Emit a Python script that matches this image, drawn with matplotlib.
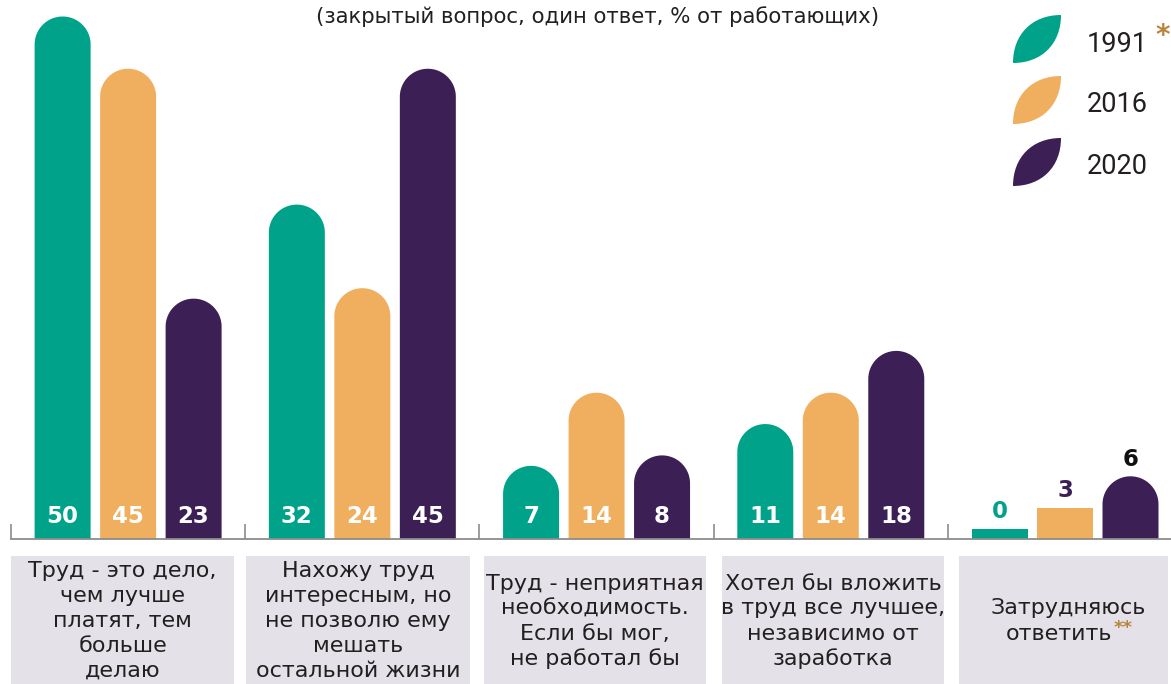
import numpy as np
import matplotlib
matplotlib.use("Agg")
import matplotlib.pyplot as plt
from matplotlib.patches import Polygon, Rectangle, PathPatch
from matplotlib.path import Path

# data
categories = [
    "Труд - это дело,\nчем лучше\nплатят, тем\nбольше\nделаю",
    "Нахожу труд\nинтересным, но\nне позволю ему\nмешать\nостальной жизни",
    "Труд - неприятная\nнеобходимость.\nЕсли бы мог,\nне работал бы",
    "Хотел бы вложить\nв труд все лучшее,\nнезависимо от\nзаработка",
    "Затрудняюсь\nответить",
]
years = ["1991", "2016", "2020"]
v1991 = [50, 32, 7, 11, 0]
v2016 = [45, 24, 14, 14, 3]
v2020 = [23, 45, 8, 18, 6]
series = [v1991, v2016, v2020]

colors = ["#00A389", "#F0AF5E", "#3C1F54"]
outside_colors = ["#00A389", "#3C1F54", "#111111"]
star_color = "#B8843E"
text_color = "#231F20"
box_color = "#E4E2E8"

W, H = 1171, 684
fig = plt.figure(figsize=(W / 100, H / 100), dpi=100)
renderer = fig.canvas.get_renderer()

# background layer in pixel coords (label boxes, legend, title)
deco = fig.add_axes([0, 0, 1, 1], zorder=0)
deco.set_xlim(0, W)
deco.set_ylim(H, 0)
deco.axis("off")

# main bar axes
base_px = 539
ax_left_px = 11
ax = fig.add_axes([ax_left_px / W, 1 - base_px / H, 1 - ax_left_px / W, base_px / H], zorder=1)
ax.patch.set_alpha(0)
pitch_px = 234.25
x0 = (ax_left_px - 128) / pitch_px
x1 = (W - 128) / pitch_px
ymax = base_px / 10.45
ax.set_xlim(x0, x1)
ax.set_ylim(0, ymax)

px_per_x = (W - ax_left_px) / (x1 - x0)
px_per_y = base_px / ymax

bar_w = 56 / pitch_px
offsets = [-65.5 / pitch_px, 0, 65.5 / pitch_px]
rx = bar_w / 2
ry = rx * px_per_x / px_per_y


def bar_shape(xc, h):
    xl, xr = xc - bar_w / 2, xc + bar_w / 2
    if h > 2 * ry:
        t = np.linspace(np.pi, 0, 60)
        arc = np.column_stack([xc + rx * np.cos(t), h - ry + ry * np.sin(t)])
        pts = np.vstack([[xl, 0], arc, [xr, 0]])
    else:
        pts = np.array([[xl, 0], [xl, h], [xr, h], [xr, 0]])
    return pts


for s, (vals, col) in enumerate(zip(series, colors)):
    for i, v in enumerate(vals):
        xc = i + offsets[s]
        h = max(v, 0.95)
        ax.add_patch(Polygon(bar_shape(xc, h), closed=True, facecolor=col,
                             edgecolor="none"))
        if v >= 7:
            ax.text(xc, 2.2, str(v), ha="center", va="center", color="white",
                    fontsize=16.5, fontweight="bold")
        else:
            ax.text(xc, h + 0.55, str(v), ha="center", va="bottom",
                    color=outside_colors[s], fontsize=16.5, fontweight="bold")

for side in ["left", "right", "top"]:
    ax.spines[side].set_visible(False)
ax.spines["bottom"].set_color("#8C8C8C")
ax.spines["bottom"].set_linewidth(1.3)
ax.set_xticks(np.arange(len(categories)) - 0.5)
ax.set_xticklabels([])
ax.set_yticks([])
ax.tick_params(axis="x", direction="in", length=11, width=1.2, color="#8C8C8C")


def text_width(s, fs):
    probe = deco.text(0, 0, s, fontsize=fs)
    w = probe.get_window_extent(renderer).width
    probe.remove()
    return w


# category boxes under the axis, labels drawn line by line
boxes = [(11, 234), (246, 470), (484, 706), (722, 944), (959, 1168)]
label_fs = 16
star_fs = 13
line_pitch = 25
for k, ((bl, br), label) in enumerate(zip(boxes, categories)):
    deco.add_patch(Rectangle((bl, 556), br - bl, 128, facecolor=box_color,
                             edgecolor="none"))
    lines = label.split("\n")
    xc = (bl + br) / 2
    last = k == len(categories) - 1
    if last:
        xc = 1068
    ys = 621 + (np.arange(len(lines)) - (len(lines) - 1) / 2) * line_pitch
    for j, (ln, y) in enumerate(zip(lines, ys)):
        if last and j == len(lines) - 1:
            w1 = text_width(ln, label_fs)
            w2 = text_width("**", star_fs)
            start = xc - (w1 + w2) / 2
            deco.text(start, y, ln, ha="left", va="center",
                      fontsize=label_fs, color=text_color)
            deco.text(start + w1 + 1, y - 6, "**", ha="left", va="center",
                      fontsize=star_fs, color=star_color, fontweight="bold")
        else:
            deco.text(xc, y, ln, ha="center", va="center",
                      fontsize=label_fs, color=text_color)

# title
deco.text(598, 17, "(закрытый вопрос, один ответ, % от работающих)",
          ha="center", va="center", fontsize=15.3, color=text_color)

# legend with leaf shapes
leaf_tops = [15, 76, 138]
for top, col, yr in zip(leaf_tops, colors, years):
    l, r, t, b = 1013, 1061, top, top + 48
    verts = [(l, b), (l, b - 0.6 * 48), (l + 0.4 * 48, t), (r, t),
             (r, t + 0.6 * 48), (r - 0.4 * 48, b), (l, b), (l, b)]
    codes = [Path.MOVETO, Path.CURVE4, Path.CURVE4, Path.CURVE4,
             Path.CURVE4, Path.CURVE4, Path.CURVE4, Path.CLOSEPOLY]
    deco.add_patch(PathPatch(Path(verts, codes), facecolor=col, edgecolor="none"))
    deco.text(1087, top + 29, yr, ha="left", va="center", fontsize=19.5,
              color=text_color, family="Roboto")
deco.text(1155, 36, "*", ha="left", va="center", fontsize=20,
          color=star_color, fontweight="bold")

fig.savefig("out.png", dpi=100)
